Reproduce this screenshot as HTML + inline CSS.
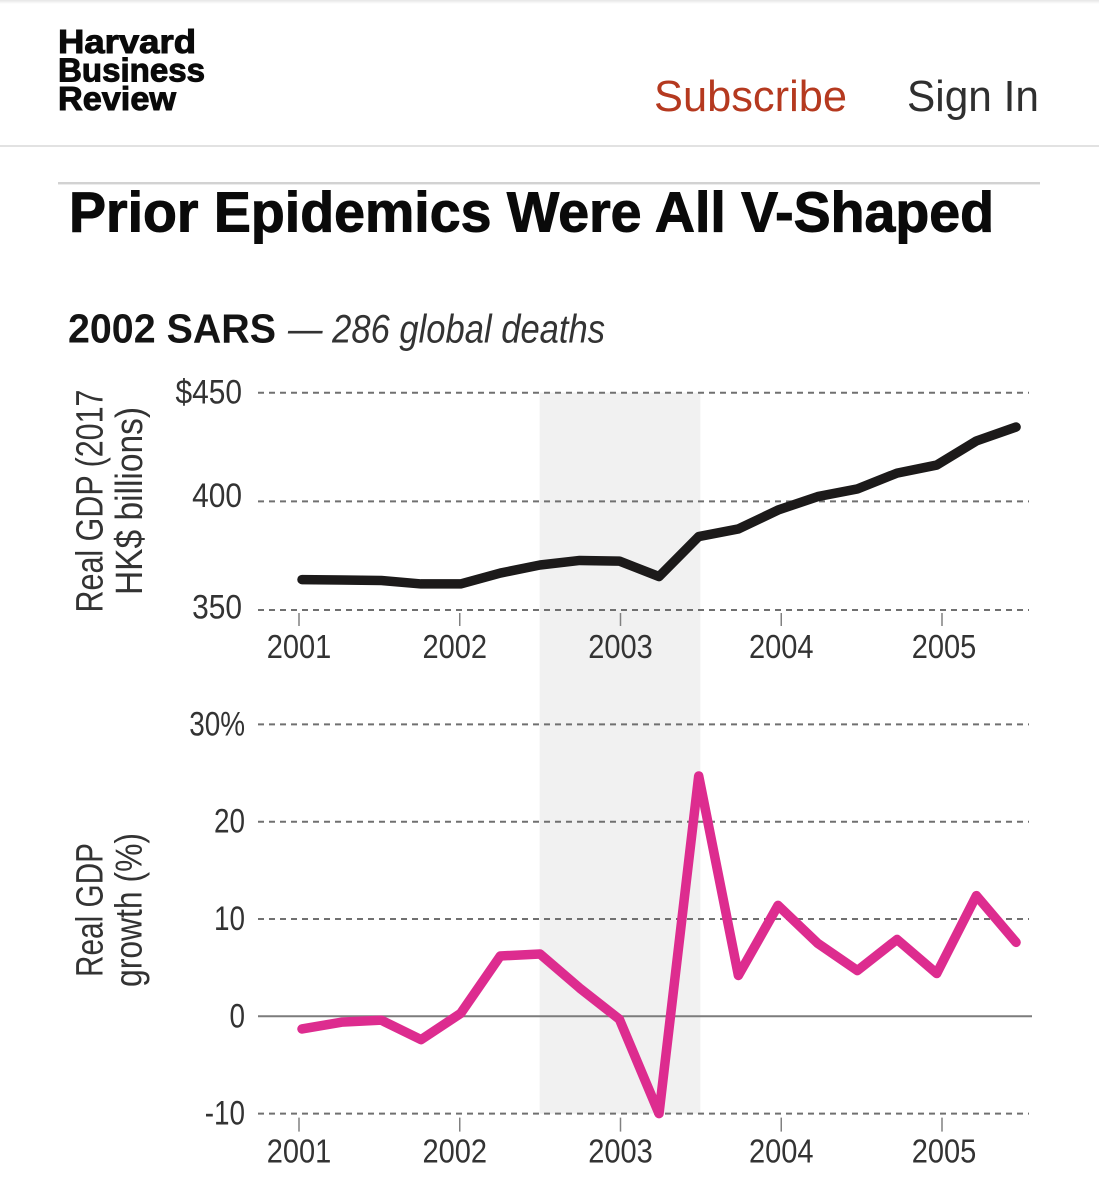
<!DOCTYPE html>
<html lang="en">
<head>
<meta charset="utf-8">
<title>Prior Epidemics Were All V-Shaped</title>
<style>
  html, body { margin: 0; padding: 0; background: #fff; }
  body { width: 1099px; height: 1200px; overflow: hidden; }
  svg { display: block; font-family: "Liberation Sans", Arial, sans-serif; }
</style>
</head>
<body>
<svg id="chart" xmlns="http://www.w3.org/2000/svg" width="1099" height="1200" viewBox="0 0 1099 1200">
  <defs>
    <linearGradient id="topShade" x1="0" y1="0" x2="0" y2="1">
      <stop offset="0" stop-color="#e6e6e6"/>
      <stop offset="1" stop-color="#ffffff"/>
    </linearGradient>
  </defs>
  <rect x="0" y="0" width="1099" height="1200" fill="#ffffff"/>
  <rect x="0" y="0" width="1099" height="4" fill="url(#topShade)"/>

  <g font-weight="700" font-size="33" fill="#0a0a0a" stroke="#0a0a0a" stroke-width="1">
    <text x="58" y="53" textLength="138" lengthAdjust="spacingAndGlyphs">Harvard</text>
    <text x="58" y="81.5" textLength="147" lengthAdjust="spacingAndGlyphs">Business</text>
    <text x="58" y="110" textLength="118" lengthAdjust="spacingAndGlyphs">Review</text>
  </g>
  <text x="654" y="111" font-size="44" fill="#b5391f" textLength="193" lengthAdjust="spacingAndGlyphs">Subscribe</text>
  <text x="907" y="111" font-size="44" fill="#2f2f2f" textLength="132" lengthAdjust="spacingAndGlyphs">Sign In</text>
  <rect x="0" y="145" width="1099" height="2" fill="#e2e2e2"/>

  <rect x="58" y="182" width="982" height="2.4" fill="#d2d2d2"/>
  <text x="69" y="231.5" font-size="57" font-weight="700" fill="#0a0a0a" stroke="#0a0a0a" stroke-width="1" textLength="925" lengthAdjust="spacingAndGlyphs">Prior Epidemics Were All V-Shaped</text>

  <text x="68" y="342.5" font-size="41" font-weight="700" fill="#141414" textLength="208" lengthAdjust="spacingAndGlyphs">2002 SARS</text>
  <text x="288" y="342.5" font-size="40" font-style="italic" fill="#333333" textLength="317" lengthAdjust="spacingAndGlyphs">— 286 global deaths</text>

  <g id="shade-layer"></g>
  <g id="grid-layer"></g>
  <g id="tick-layer"></g>
  <g id="line-layer"></g>

  <g font-size="38" fill="#333333">
    <text transform="translate(102.7 612.5) rotate(-90)" textLength="223" lengthAdjust="spacingAndGlyphs">Real GDP (2017</text>
    <text transform="translate(142 595) rotate(-90)" textLength="188" lengthAdjust="spacingAndGlyphs">HK$ billions)</text>
    <text transform="translate(102.7 977) rotate(-90)" textLength="134" lengthAdjust="spacingAndGlyphs">Real GDP</text>
    <text transform="translate(141.7 987) rotate(-90)" textLength="154" lengthAdjust="spacingAndGlyphs">growth (%)</text>
  </g>
</svg>

<script>
// ---- chart data ----
const years = [2001, 2002, 2003, 2004, 2005];
const sarsPeriod = [2002.5, 2003.5];
const gdpTicks = [350, 400, 450];
const gdpTickLabels = ['350', '400', '$450'];
const growthTicks = [-10, 0, 10, 20, 30];
const growthTickLabels = ['-10', '0', '10', '20', '30%'];
const quarters = ['2001Q1','2001Q2','2001Q3','2001Q4','2002Q1','2002Q2','2002Q3','2002Q4','2003Q1','2003Q2','2003Q3','2003Q4','2004Q1','2004Q2','2004Q3','2004Q4','2005Q1','2005Q2','2005Q3'];
const gdpValues = [364, 363.8, 363.6, 362, 362, 367, 370.7, 372.8, 372.5, 365.4, 383.8, 387.3, 396, 402.2, 405.7, 413, 416.7, 427.8, 434.2];
const growthValues = [-1.3, -0.6, -0.4, -2.4, 0.3, 6.2, 6.4, 2.9, -0.3, -10, 24.7, 4.2, 11.4, 7.5, 4.7, 7.9, 4.4, 12.4, 7.6];

// ---- axis functions ----
const xYear = function (year) { return 299 + (year - 2001) * 160.75; };
const xQuarter = function (index) { return 302 + index * 39.67; };
const yGdp = function (value) { return 610 - (value - 350) * 2.173; };
const yGrowth = function (value) { return 1016.3 - value * 9.73; };

// ---- hand-set label placement, as in the printed figure ----
function yearLabelShift(year) {
  if (year === 2002) { return -5; }
  if (year === 2005) { return 2; }
  return 0;
}
function gdpLabelShift(value) {
  if (value === 400) { return -5.5; }
  if (value === 350) { return -2.5; }
  return 0;
}

const SVG_NS = 'http://www.w3.org/2000/svg';
function make(tag, parent, attrs) {
  const el = document.createElementNS(SVG_NS, tag);
  Object.keys(attrs).forEach(function (k) { el.setAttribute(k, attrs[k]); });
  parent.appendChild(el);
  return el;
}
const shadeLayer = document.getElementById('shade-layer');
const gridLayer = document.getElementById('grid-layer');
const tickLayer = document.getElementById('tick-layer');
const lineLayer = document.getElementById('line-layer');

// SARS shaded band
const band = make('rect', shadeLayer, {
  x: xYear(sarsPeriod[0]) - 0.5,
  y: yGdp(gdpTicks[2]),
  width: xYear(sarsPeriod[1]) - xYear(sarsPeriod[0]),
  height: yGrowth(growthTicks[0]) - yGdp(gdpTicks[2]),
  fill: '#f1f1f1'
});



// GDP panel: gridlines and y labels
gdpTicks.forEach(function (value, i) {
  const y = yGdp(value);
  const grid = make('line', gridLayer, { x1: 258, x2: 1029, y1: y, y2: y, stroke: '#707070', 'stroke-width': 2, 'stroke-dasharray': '6 5' });
  
  
  const label = make('text', tickLayer, { transform: 'translate(242 ' + (y + 11 + gdpLabelShift(value)) + ') scale(0.88 1)', 'text-anchor': 'end', 'font-size': 34, fill: '#333333' });
  
  
  label.textContent = gdpTickLabels[i];
});

// Growth panel: gridlines and y labels
growthTicks.forEach(function (value, i) {
  const y = yGrowth(value);
  const isZero = value === 0;
  const grid = make('line', gridLayer, { x1: 258, x2: isZero ? 1032 : 1029, y1: y, y2: y, stroke: isZero ? '#7c7c7c' : '#707070', 'stroke-width': 2, 'stroke-dasharray': isZero ? 'none' : '6 5' });
  
  
  const label = make('text', tickLayer, { transform: 'translate(245 ' + (y + 11) + ') scale(0.82 1)', 'text-anchor': 'end', 'font-size': 34, fill: '#333333' });
  
  
  label.textContent = growthTickLabels[i];
});

// Year ticks and labels for both panels
years.forEach(function (year) {
  const x = xYear(year);
  const labelX = x + yearLabelShift(year);
  const topTick = make('line', tickLayer, { x1: x, x2: x, y1: yGdp(gdpTicks[0]) + 3, y2: yGdp(gdpTicks[0]) + 16, stroke: '#808080', 'stroke-width': 1.5 });
  
  
  const topLabel = make('text', tickLayer, { transform: 'translate(' + labelX + ' 658) scale(0.88 1)', 'text-anchor': 'middle', 'font-size': 33, fill: '#333333' });
  
  
  topLabel.textContent = String(year);
  const bottomTick = make('line', tickLayer, { x1: x, x2: x, y1: yGrowth(growthTicks[0]) + 4, y2: yGrowth(growthTicks[0]) + 18, stroke: '#808080', 'stroke-width': 1.5 });
  
  
  const bottomLabel = make('text', tickLayer, { transform: 'translate(' + labelX + ' 1162.5) scale(0.88 1)', 'text-anchor': 'middle', 'font-size': 33, fill: '#333333' });
  
  
  bottomLabel.textContent = String(year);
});

// Series lines
function pointsFor(values, yScale) {
  return values.map(function (value, i) { return xQuarter(i).toFixed(2) + ',' + yScale(value).toFixed(2); }).join(' ');
}
const gdpLine = make('polyline', lineLayer, { points: pointsFor(gdpValues, yGdp), fill: 'none', stroke: '#1c1a1a', 'stroke-width': 9.5, 'stroke-linejoin': 'round', 'stroke-linecap': 'round' });


const growthLine = make('polyline', lineLayer, { points: pointsFor(growthValues, yGrowth), fill: 'none', stroke: '#dd2c8f', 'stroke-width': 9.5, 'stroke-linejoin': 'round', 'stroke-linecap': 'round' });


</script>
</body>
</html>
